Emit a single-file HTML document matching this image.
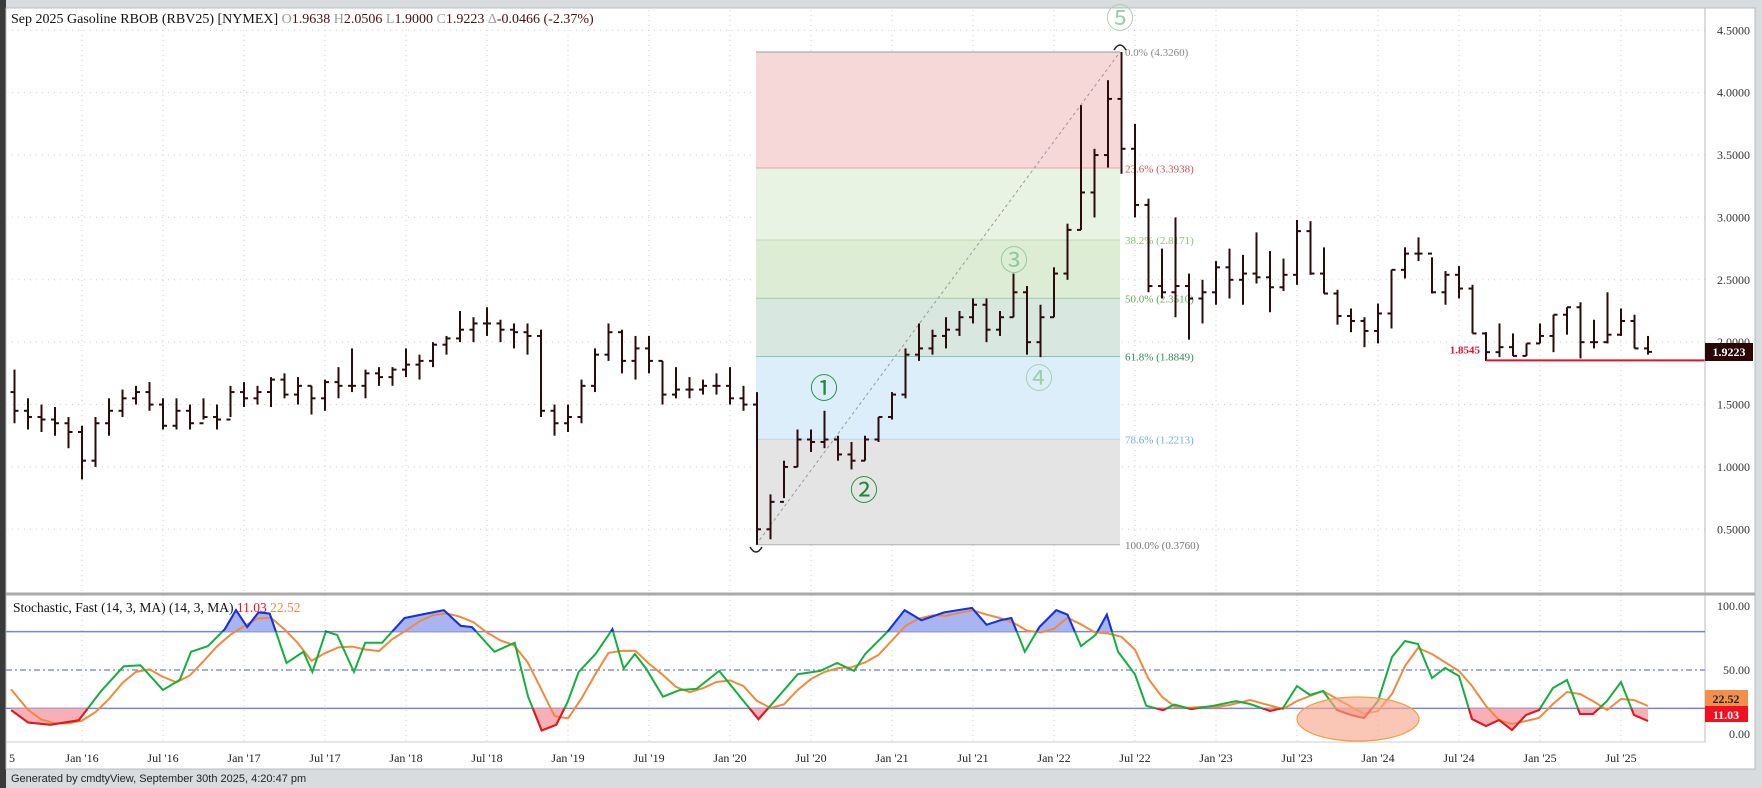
<!DOCTYPE html>
<html><head><meta charset="utf-8"><style>
html,body{margin:0;padding:0;background:#d9dcdf;width:1762px;height:788px;overflow:hidden}
svg{display:block}
text{font-family:"Liberation Serif",serif}
</style></head><body>
<svg id="s" width="1762" height="788" xmlns="http://www.w3.org/2000/svg">
<rect x="0" y="0" width="1762" height="788" fill="#d9dcdf"/>
<rect x="0" y="0" width="6" height="788" fill="#3a3a3a"/>
<rect x="6" y="8" width="1749" height="761" fill="#fff" stroke="#b8bcc0"/>
<g id="g"></g>
</svg>
<script>
const S='http://www.w3.org/2000/svg',G=document.getElementById('g');
function el(t,a,txt){const e=document.createElementNS(S,t);for(const k in a)e.setAttribute(k,a[k]);if(txt!==undefined)e.textContent=txt;G.appendChild(e);return e;}
const PR=1705;
const py=p=>30.3+(4.5-p)*124.75;
const xm=m=>82+13.5*m;
const sy=v=>734-v*1.28;
for(let p=0.5;p<=4.51;p+=0.5){el('line',{x1:6,x2:PR,y1:py(p),y2:py(p),stroke:'#d0d0d0','stroke-dasharray':'1 5'});}
const labs=[["Jan '16",0],["Jul '16",6],["Jan '17",12],["Jul '17",18],["Jan '18",24],["Jul '18",30],["Jan '19",36],["Jul '19",42],["Jan '20",48],["Jul '20",54],["Jan '21",60],["Jul '21",66],["Jan '22",72],["Jul '22",78],["Jan '23",84],["Jul '23",90],["Jan '24",96],["Jul '24",102],["Jan '25",108],["Jul '25",114]];
labs.forEach(l=>{const x=xm(l[1]);el('line',{x1:x,x2:x,y1:10,y2:742,stroke:'#d0d0d0','stroke-dasharray':'1 4'});el('text',{x:x,y:762,'font-size':12,'text-anchor':'middle',fill:'#222'},l[0]);});
el('text',{x:9,y:762,'font-size':12,fill:'#222'},'5');
const fx1=756,fx2=1120;
const fib=[[4.326,3.3938,'#f6d8d9','#e07070','23.6% (3.3938)','#d65050'],[3.3938,2.8171,'#e8f3e3','#9ccc8a','38.2% (2.8171)','#8cc07a'],[2.8171,2.351,'#dcecd5','#6fb46a','50.0% (2.3510)','#5fa85a'],[2.351,1.8849,'#d8e8e0','#3f9a6a','61.8% (1.8849)','#2f8a5a'],[1.8849,1.2213,'#ddeefb','#8ec0e6','78.6% (1.2213)','#6aaee0'],[1.2213,0.376,'#e4e4e4','#b0b0b0','100.0% (0.3760)','#777']];
fib.forEach(f=>{el('rect',{x:fx1,y:py(f[0]),width:fx2-fx1,height:py(f[1])-py(f[0]),fill:f[2]});el('line',{x1:fx1,x2:fx2,y1:py(f[1]),y2:py(f[1]),stroke:f[3]});el('text',{x:fx2+5,y:py(f[1])+4,'font-size':11,fill:f[5]},f[4]);});
el('line',{x1:fx1,x2:fx2,y1:py(4.326),y2:py(4.326),stroke:'#999'});
el('text',{x:fx2+5,y:py(4.326)+4,'font-size':11,fill:'#888'},'0.0% (4.3260)');
el('line',{x1:fx1,y1:py(0.376),x2:fx2,y2:py(4.326),stroke:'#999','stroke-dasharray':'3 3'});
const D=[[1.78,1.35,1.45],[1.55,1.30,1.40],[1.50,1.28,1.38],[1.48,1.25,1.35],[1.40,1.15,1.28],
[1.33,0.90,1.05],[1.40,1.00,1.35],[1.55,1.25,1.45],[1.62,1.40,1.55],[1.65,1.50,1.60],[1.68,1.45,1.50],[1.55,1.30,1.33],[1.55,1.30,1.45],[1.50,1.30,1.35],[1.55,1.38,1.40],[1.50,1.30,1.38],[1.65,1.40,1.60],
[1.68,1.48,1.55],[1.65,1.50,1.60],[1.72,1.48,1.70],[1.75,1.55,1.58],[1.72,1.50,1.65],[1.65,1.42,1.55],[1.70,1.45,1.68],[1.80,1.55,1.65],[1.95,1.60,1.65],[1.78,1.55,1.75],[1.80,1.65,1.72],[1.80,1.65,1.78],
[1.95,1.72,1.82],[1.90,1.70,1.85],[2.00,1.80,1.98],[2.05,1.90,2.03],[2.25,2.00,2.10],[2.20,2.00,2.15],[2.28,2.05,2.15],[2.18,2.00,2.10],[2.15,1.95,2.08],[2.15,1.90,2.05],[2.10,1.40,1.45],[1.50,1.25,1.35],
[1.50,1.28,1.40],[1.70,1.35,1.65],[1.95,1.60,1.90],[2.15,1.85,2.08],[2.10,1.75,1.85],[2.05,1.70,1.95],[2.05,1.75,1.85],[1.85,1.50,1.58],[1.80,1.55,1.62],[1.72,1.55,1.62],[1.70,1.58,1.65],[1.75,1.58,1.65],
[1.80,1.50,1.55],[1.65,1.45,1.50],[1.60,0.376,0.50],[0.78,0.42,0.72],[1.05,0.75,1.00],[1.30,1.00,1.22],[1.30,1.12,1.20],[1.45,1.15,1.22],[1.25,1.05,1.10],[1.20,0.98,1.05],[1.25,1.05,1.22],[1.40,1.20,1.40],
[1.60,1.38,1.58],[1.95,1.55,1.90],[2.15,1.85,1.95],[2.10,1.90,2.05],[2.20,1.95,2.10],[2.25,2.05,2.20],[2.35,2.15,2.30],[2.35,2.00,2.10],[2.25,2.05,2.20],[2.55,2.20,2.40],[2.45,1.90,2.00],[2.30,1.88,2.20],
[2.60,2.20,2.55],[2.95,2.50,2.90],[3.90,2.90,3.20],[3.55,3.00,3.50],[4.10,3.40,3.95],[4.326,3.35,3.55],[3.75,3.00,3.10],[3.15,2.40,2.45],[2.75,2.35,2.40],[3.00,2.20,2.45],[2.55,2.02,2.35],[2.50,2.15,2.40],
[2.65,2.30,2.60],[2.75,2.35,2.50],[2.70,2.30,2.55],[2.88,2.47,2.52],[2.73,2.24,2.44],[2.67,2.41,2.54],[2.98,2.46,2.89],[2.97,2.54,2.55],[2.76,2.39,2.39],[2.42,2.14,2.21],[2.27,2.08,2.17],[2.20,1.96,2.09],
[2.31,1.99,2.23],[2.58,2.11,2.58],[2.76,2.51,2.71],[2.84,2.65,2.71],[2.68,2.39,2.40],[2.57,2.30,2.54],[2.61,2.35,2.43],[2.46,2.07,2.07],[2.08,1.85,1.92],[2.15,1.88,1.96],[2.07,1.89,1.89],[1.99,1.89,1.99],
[2.15,1.99,2.05],[2.22,1.92,2.22],[2.28,2.06,2.28],[2.32,1.87,2.00],[2.18,1.95,2.00],[2.40,1.99,2.06],[2.27,2.05,2.17],[2.22,1.95,1.95],[2.05,1.90,1.9223]];
let prev=1.60;
D.forEach((d,i)=>{const x=xm(i-5);const o=prev;
el('line',{x1:x,x2:x,y1:py(d[0]),y2:py(d[1]),stroke:'#2b0b0b','stroke-width':2});
el('line',{x1:x-4,x2:x,y1:py(o),y2:py(o),stroke:'#2b0b0b','stroke-width':2});
el('line',{x1:x,x2:x+4,y1:py(d[2]),y2:py(d[2]),stroke:'#2b0b0b','stroke-width':2});prev=d[2];});
el('line',{x1:1486,x2:PR,y1:py(1.8545),y2:py(1.8545),stroke:'#e8102a','stroke-width':2});
el('text',{x:1480,y:py(1.8545)-7,'font-size':11,fill:'#e8102a','text-anchor':'end','font-weight':'bold'},'1.8545');
const mk=(t,x,y,c)=>el('text',{x:x,y:y,'font-size':28,fill:c,'text-anchor':'middle',style:'font-family:"Noto Sans CJK JP",sans-serif'},t);
mk('⑤',1120,28,'#9fcfa8');mk('③',1014,270,'#8fc99a');mk('④',1039,388,'#9fcfa8');mk('①',824,398,'#1a8a3a');mk('②',864,500,'#1a8a3a');
el('path',{d:'M1114 50 Q1120 40 1126 50',stroke:'#222',fill:'none','stroke-width':1.5});
el('path',{d:'M750 547 Q756 557 762 547',stroke:'#222',fill:'none','stroke-width':1.5});
el('line',{x1:PR,x2:PR,y1:8,y2:742,stroke:'#bbb'});
for(let p=0.5;p<=4.51;p+=0.5){el('text',{x:1750,y:py(p)+4,'font-size':12,'text-anchor':'end',fill:'#333'},p.toFixed(4));}
el('rect',{x:1705,y:343,width:48,height:18,fill:'#2a0606'});
el('text',{x:1729,y:356,'font-size':12,'font-weight':'bold','text-anchor':'middle',fill:'#fff'},'1.9223');
el('line',{x1:6,x2:1755,y1:594,y2:594,stroke:'#aaa','stroke-width':3});
el('line',{x1:6,x2:PR,y1:742,y2:742,stroke:'#ccc'});
const h=el('text',{x:11,y:23,'font-size':14,fill:'#111'});
h.innerHTML='Sep 2025 Gasoline RBOB (RBV25) [NYMEX] <tspan fill="#999">O</tspan><tspan fill="#4a1010">1.9638 </tspan><tspan fill="#999">H</tspan><tspan fill="#4a1010">2.0506 </tspan><tspan fill="#999">L</tspan><tspan fill="#4a1010">1.9000 </tspan><tspan fill="#999">C</tspan><tspan fill="#4a1010">1.9223 </tspan><tspan fill="#999">Δ</tspan><tspan fill="#4a1010">-0.0466 (-2.37%)</tspan>';
const y80=sy(80),y20=sy(20),y50=sy(50);
el('line',{x1:6,x2:PR,y1:y80,y2:y80,stroke:'#7a80c8','stroke-width':1.5});
el('line',{x1:6,x2:PR,y1:y20,y2:y20,stroke:'#7a80c8','stroke-width':1.5});
el('line',{x1:6,x2:PR,y1:y50,y2:y50,stroke:'#8a90d0','stroke-width':1.5,'stroke-dasharray':'6 3 2 3'});
[[100,606],[50,y50],[0,734]].forEach(v=>el('text',{x:1750,y:v[1]+4,'font-size':12,'text-anchor':'end',fill:'#333'},v[0].toFixed(2)));
let gd=[[10,632],[25,643],[45,645],[70,641],[90,615],[110,593],[125,592],[145,614],[160,605],[170,580],[185,575],[200,560],[210,543],[220,558],[230,545],[240,546],[255,590],[270,580],[278,598],[290,562],[300,565],[315,598],[325,572],[340,572],[360,550],[380,546],[395,543],[410,557],[420,558],[440,580],[458,572],[470,620],[482,650],[495,645],[505,625],[515,598],[530,582],[545,560],[555,595],[565,582],[575,595],[590,620],[605,614],[620,613],[640,597],[665,628],[675,640],[690,623],[710,600],[730,597],[745,590],[760,597],[770,582],[790,562],[805,543],[820,552],[840,545],[865,541],[878,556],[890,552],[900,550],[912,580],[925,558],[940,543],[950,547],[962,575],[975,565],[985,547],[995,580],[1010,600],[1020,628],[1035,632],[1045,627],[1060,631],[1080,628],[1100,624]].map(p=>[p[0]*1.1237,p[1]*1.1237]);
gd=gd.concat([[1250,704],[1270,711],[1283,708],[1297,686],[1310,695],[1323,691],[1337,710],[1351,715],[1364,718],[1378,701],[1392,657],[1405,641],[1418,644],[1432,678],[1445,668],[1459,676],[1472,719],[1486,726],[1499,720],[1512,730],[1526,715],[1539,710],[1553,688],[1567,680],[1580,714],[1593,714],[1607,701],[1621,682],[1634,715],[1648,721]]);
function interp(x){for(let i=1;i<gd.length;i++){if(gd[i][0]>=x){const a=gd[i-1],b=gd[i];return a[1]+(b[1]-a[1])*(x-a[0])/(b[0]-a[0]);}}return gd[gd.length-1][1];}
const gp=gd.map(p=>p.join(',')).join(' ');
const x0=gd[0][0],xN=gd[gd.length-1][0];
const defs=el('defs',{});
defs.innerHTML=`<clipPath id="ca"><rect x="0" y="0" width="1762" height="${y80}"/></clipPath><clipPath id="cb"><rect x="0" y="${y20}" width="1762" height="200"/></clipPath>`;
el('polygon',{points:`${x0},${y80} ${gp} ${xN},${y80}`,fill:'#a9b4f2','clip-path':'url(#ca)'});
el('polygon',{points:`${x0},${y20} ${gp} ${xN},${y20}`,fill:'#f7b0b8','clip-path':'url(#cb)'});
const st=[];
for(let m=-5;m<=116;m++){st.push(interp(xm(m)));}
let op=[];
for(let i=0;i<st.length;i++){const x=xm(i-5);if(x>=1240)break;const a=st.slice(Math.max(0,i-2),i+1);let v=a.reduce((s,q)=>s+q,0)/a.length;if(i<2)v=(v+sy(25))/2;op.push([x,v]);}
op[0]=[11,sy(35)];
op=op.concat([[1250,700],[1283,709],[1297,701],[1323,691],[1364,714],[1378,711],[1392,694],[1405,666],[1418,648],[1432,654],[1459,671],[1472,686],[1486,706],[1499,720],[1512,724],[1526,721],[1539,718],[1553,704],[1567,692],[1580,694],[1593,701],[1607,710],[1621,699],[1634,700],[1648,706]]);
el('polyline',{points:op.map(p=>p.join(',')).join(' '),fill:'none',stroke:'#f08a3c','stroke-width':2});
el('polyline',{points:gp,fill:'none',stroke:'#14b03c','stroke-width':2});
el('polyline',{points:gp,fill:'none',stroke:'#1a2cf0','stroke-width':2,'clip-path':'url(#ca)'});
el('polyline',{points:gp,fill:'none',stroke:'#f01020','stroke-width':2,'clip-path':'url(#cb)'});
el('ellipse',{cx:1358,cy:719,rx:61,ry:22,fill:'#f7a88e','fill-opacity':0.65,stroke:'#f0a040','stroke-width':1.2});
const t=el('text',{x:13,y:612,'font-size':13.5,fill:'#111'});
t.innerHTML='Stochastic, Fast (14, 3, MA)  (14, 3, MA) <tspan fill="#f01020">11.03</tspan> <tspan fill="#f08a3c">22.52</tspan>';
el('rect',{x:1705,y:690,width:43,height:16,fill:'#f0904a'});
el('text',{x:1726,y:703,'font-size':12,'font-weight':'bold','text-anchor':'middle',fill:'#222'},'22.52');
el('rect',{x:1705,y:706,width:43,height:16,fill:'#f01020'});
el('text',{x:1726,y:719,'font-size':12,'font-weight':'bold','text-anchor':'middle',fill:'#fff'},'11.03');
el('text',{x:11,y:782,'font-size':11,fill:'#222',style:'font-family:"Liberation Sans",sans-serif'},'Generated by cmdtyView, September 30th 2025, 4:20:47 pm');
</script>
</body></html>
